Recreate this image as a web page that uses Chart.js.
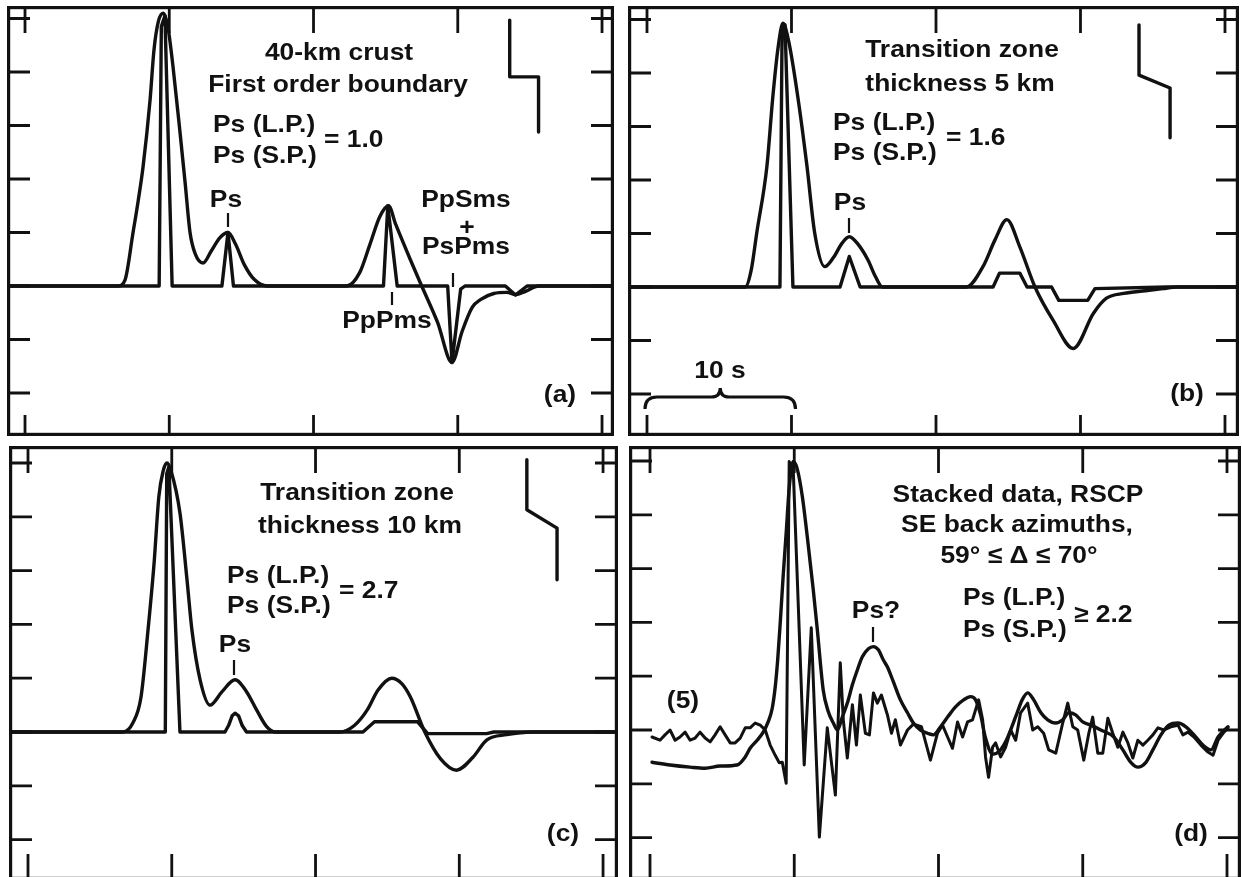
<!DOCTYPE html>
<html>
<head>
<meta charset="utf-8">
<script src="https://cdn.jsdelivr.net/npm/chart.js@4/dist/chart.umd.min.js"></script>
<style>
  body { margin: 0; background: #fff; width: 1242px; height: 877px; overflow: hidden; position: relative; }
  canvas { position: absolute; }
</style>
</head>
<body>
<canvas id="panelA"></canvas>
<canvas id="panelB"></canvas>
<canvas id="panelC"></canvas>
<canvas id="panelD"></canvas>
<script>
'use strict';

// time axis in seconds, amplitude in tick units
const xTicks = [0, 10, 20, 30, 40];
const yTicks = [-2, -1, 0, 1, 2, 3, 4, 5];
const INK = '#111';

// (a) 40-km crust, first order boundary
let aLpTime = [-1.3, 6.45, 6.93, 7.49, 7.85, 8.18, 8.67, 8.94, 9.25, 9.6, 9.9, 10.26, 10.75, 11.1, 11.44, 11.8, 12.34, 12.9, 13.5, 14.07, 14.6, 15.2, 15.9, 16.8, 22.3, 23.2, 23.9, 24.6, 25.2, 25.7, 26.7, 27.5, 28.6, 29.6, 30.3, 31.0, 31.6, 32.5, 33.4, 34.0, 34.7, 35.6, 41];
let aLpAmp = [0, 0, 0.11, 1.0, 1.6, 2.22, 3.48, 4.41, 4.95, 5.1, 4.85, 4.1, 2.86, 1.93, 1.0, 0.6, 0.43, 0.65, 0.9, 1.0, 0.78, 0.4, 0.12, 0, 0, 0.25, 0.77, 1.3, 1.5, 1.15, 0.5, 0, -0.68, -1.43, -0.85, -0.4, -0.25, -0.14, -0.12, -0.16, -0.1, 0, 0];
let aSpTime = [-1.3, 9.3, 9.45, 9.7, 10.2, 13.65, 14.07, 14.45, 24.85, 25.15, 25.8, 29.3, 29.6, 30.2, 30.5, 33.3, 34.0, 34.8, 41];
let aSpAmp = [0, 0, 4.85, 5.05, 0, 0, 1.0, 0, 0, 1.5, 0, 0, -1.43, -0.06, 0, 0, -0.17, 0, 0];
let aModelTime = [33.6, 33.6, 35.6, 35.6];
let aModelDepth = [4.97, 3.91, 3.91, 2.88];

// (b) transition zone 5 km
let bLpTime = [-1.4, 6.8, 7.2, 7.6, 8.3, 8.7, 9.07, 9.41, 9.8, 10.45, 11.07, 11.6, 12.3, 12.9, 13.5, 14.0, 14.6, 15.3, 15.8, 16.3, 22.1, 23.25, 24.1, 24.9, 25.8, 26.85, 28.1, 29.5, 30.9, 31.8, 33.0, 34.5, 35.7, 36.7, 41];
let bLpAmp = [0, 0, 0.3, 1.02, 2.26, 3.53, 4.47, 4.93, 4.6, 3.53, 2.26, 1.02, 0.38, 0.55, 0.82, 0.94, 0.8, 0.5, 0.2, 0, 0, 0.38, 0.89, 1.26, 0.75, 0, -0.62, -1.15, -0.49, -0.21, -0.12, -0.07, -0.03, 0, 0];
let bSpTime = [-1.4, 9.2, 9.35, 9.55, 10.1, 13.36, 14.0, 14.75, 23.95, 24.4, 25.8, 26.3, 28.0, 28.5, 30.5, 31.0, 36.0, 41];
let bSpAmp = [0, 0, 4.85, 4.9, 0, 0, 0.57, 0, 0, 0.26, 0.26, 0, 0, -0.25, -0.25, -0.03, 0, 0];
let bModelTime = [34.05, 34.05, 36.2, 36.2];
let bModelDepth = [4.9, 3.96, 3.72, 2.79];

// (c) transition zone 10 km
let cLpTime = [-1.4, 6.6, 7.3, 7.86, 8.35, 8.77, 9.1, 9.4, 9.67, 9.95, 10.57, 11.06, 11.4, 11.97, 12.66, 13.5, 14.4, 15.2, 15.9, 16.6, 17.2, 21.7, 22.7, 23.6, 24.35, 25.3, 26.0, 26.6, 27.6, 28.7, 29.8, 30.95, 31.9, 33.3, 35.1, 41.2];
let cLpAmp = [0, 0, 0.17, 0.65, 1.9, 3.14, 4.37, 4.85, 5.0, 4.85, 4.07, 2.83, 1.9, 0.97, 0.5, 0.75, 0.97, 0.75, 0.41, 0.1, 0, 0, 0.12, 0.41, 0.78, 1.0, 0.9, 0.65, 0, -0.5, -0.71, -0.47, -0.15, -0.05, 0, 0];
let cSpTime = [-1.4, 9.55, 9.65, 9.8, 10.57, 13.7, 13.95, 14.2, 14.4, 14.65, 14.9, 15.2, 23.3, 24.1, 27.1, 27.8, 31.9, 32.4, 41.2];
let cSpAmp = [0, 0, 4.8, 4.93, 0, 0, 0.12, 0.3, 0.35, 0.3, 0.12, 0, 0, 0.19, 0.19, -0.03, -0.03, 0, 0];
let cModelTime = [34.7, 34.7, 36.8, 36.8];
let cModelDepth = [5.06, 4.13, 3.79, 2.83];

// (d) stacked data, RSCP
let dLpTime = [0.14, 1.39, 2.78, 3.82, 4.86, 6.04, 6.6, 6.94, 7.43, 7.85, 8.19, 8.47, 8.68, 8.85, 9.03, 9.24, 9.45, 9.65, 9.93, 10.21, 10.56, 10.9, 11.11, 11.32, 11.6, 12.01, 12.35, 12.71, 12.99, 13.33, 13.68, 14.03, 14.38, 14.72, 15.14, 15.49, 15.83, 16.18, 16.46, 16.88, 17.36, 17.85, 18.26, 18.75, 19.24, 19.65, 20.14, 20.63, 21.18, 21.74, 22.22, 22.57, 22.92, 23.26, 23.75, 24.2, 24.65, 25.0, 25.45, 25.8, 26.18, 26.6, 27.1, 27.57, 28.13, 28.61, 29.03, 29.51, 30.0, 30.56, 31.25, 32.15, 32.78, 33.33, 33.82, 34.38, 34.86, 35.42, 35.97, 36.6, 37.15, 37.71, 38.33, 38.89, 39.38, 40.07];
let dLpAmp = [-0.6, -0.65, -0.69, -0.71, -0.67, -0.65, -0.5, -0.34, -0.19, -0.04, 0.15, 0.4, 0.8, 1.3, 2.0, 2.9, 3.7, 4.5, 4.99, 4.85, 4.34, 3.6, 3.1, 2.6, 1.86, 0.74, 0.35, 0.13, 0, 0.24, 0.5, 0.84, 1.12, 1.36, 1.51, 1.55, 1.49, 1.3, 1.17, 0.89, 0.56, 0.32, 0.13, 0, -0.06, -0.09, 0.06, 0.24, 0.43, 0.56, 0.62, 0.56, 0.28, -0.15, -0.45, -0.4, -0.22, 0, 0.32, 0.56, 0.69, 0.56, 0.32, 0.19, 0.13, 0.19, 0.32, 0.28, 0.15, 0.09, 0, -0.13, -0.37, -0.6, -0.69, -0.6, -0.37, -0.09, 0.09, 0.13, 0.06, -0.09, -0.28, -0.37, -0.13, 0.06];
let dSpTime = [0.14, 0.69, 1.04, 1.39, 1.74, 2.08, 2.43, 2.78, 3.13, 3.47, 3.82, 4.17, 4.51, 4.86, 5.21, 5.56, 5.9, 6.25, 6.6, 6.94, 7.29, 7.64, 7.99, 8.33, 8.68, 8.96, 9.17, 9.44, 9.65, 9.93, 10.69, 11.18, 11.74, 12.29, 12.85, 13.19, 13.4, 13.68, 14.03, 14.31, 14.58, 14.93, 15.21, 15.49, 15.76, 16.04, 16.46, 16.74, 17.01, 17.36, 17.85, 18.26, 18.82, 19.44, 19.93, 20.28, 20.63, 20.97, 21.32, 21.67, 22.01, 22.36, 22.78, 23.06, 23.26, 23.47, 23.75, 23.96, 24.31, 24.65, 25.0, 25.35, 25.69, 26.18, 26.53, 26.88, 27.29, 27.64, 28.13, 28.61, 28.96, 29.31, 29.65, 30.07, 30.42, 30.69, 31.04, 31.39, 31.74, 32.08, 32.43, 32.78, 33.13, 33.47, 33.82, 34.17, 34.51, 34.86, 35.21, 35.63, 36.11, 36.6, 36.94, 37.29, 37.71, 38.19, 38.68, 39.03, 39.38, 39.79, 40.07];
let dSpAmp = [-0.13, -0.19, -0.09, 0, -0.19, -0.13, -0.04, -0.19, -0.15, -0.04, -0.15, -0.22, -0.09, 0.06, -0.09, -0.24, -0.24, -0.15, 0.04, 0.04, 0.13, 0.09, 0, -0.28, -0.47, -0.61, -0.6, -0.99, 4.99, 4.84, -0.65, 1.9, -1.99, 0.04, -1.21, 1.25, 0.19, -0.52, 0.47, -0.28, 0.65, -0.06, -0.09, 0.69, 0.5, 0.65, 0.28, -0.06, 0.19, -0.28, 0, 0.11, 0.06, -0.56, -0.06, 0.09, -0.13, -0.34, 0.15, -0.13, 0.15, 0.19, 0.56, 0.19, -0.5, -0.88, -0.32, -0.24, -0.5, -0.32, 0, -0.19, 0.32, 0.5, 0, 0.06, -0.06, -0.37, -0.43, 0.13, 0.5, 0.06, 0, -0.56, -0.06, 0.24, -0.43, -0.43, 0.22, -0.06, -0.32, -0.04, -0.24, -0.52, -0.19, -0.28, -0.19, -0.09, 0.04, 0, 0.06, 0.09, -0.09, -0.04, -0.13, -0.28, -0.41, -0.47, -0.19, -0.04, 0.04];

// labels: text, page x, page baseline y, alignment
let aTexts = [
  ['40-km crust', 339, 60, 'center'],
  ['First order boundary', 338, 92, 'center'],
  ['Ps (L.P.)', 213, 132, 'left'],
  ['Ps (S.P.)', 213, 163, 'left'],
  ['= 1.0', 324, 147, 'left'],
  ['Ps', 226, 207, 'center'],
  ['PpSms', 466, 207, 'center'],
  ['+', 467, 235, 'center'],
  ['PsPms', 466, 254, 'center'],
  ['PpPms', 387, 328, 'center'],
  ['(a)', 560, 402, 'center']
];
let bTexts = [
  ['Transition zone', 962, 57, 'center'],
  ['thickness 5 km', 960, 91, 'center'],
  ['Ps (L.P.)', 833, 130, 'left'],
  ['Ps (S.P.)', 833, 160, 'left'],
  ['= 1.6', 946, 145, 'left'],
  ['Ps', 850, 210, 'center'],
  ['10 s', 720, 378, 'center'],
  ['(b)', 1187, 401, 'center']
];
let cTexts = [
  ['Transition zone', 357, 500, 'center'],
  ['thickness 10 km', 360, 533, 'center'],
  ['Ps (L.P.)', 227, 583, 'left'],
  ['Ps (S.P.)', 227, 613, 'left'],
  ['= 2.7', 339, 598, 'left'],
  ['Ps', 235, 652, 'center'],
  ['(c)', 563, 841, 'center']
];
let dTexts = [
  ['Stacked data, RSCP', 1018, 502, 'center'],
  ['SE back azimuths,', 1017, 532, 'center'],
  ['59° ≤ Δ ≤ 70°', 1019, 563, 'center'],
  ['Ps (L.P.)', 963, 605, 'left'],
  ['Ps (S.P.)', 963, 637, 'left'],
  ['≥ 2.2', 1074, 622, 'left'],
  ['Ps?', 876, 618, 'center'],
  ['(5)', 683, 708, 'center'],
  ['(d)', 1191, 841, 'center']
];

// short marker lines under the phase names: x, y top, y bottom
let aMarks = [[228, 213, 227], [453, 273, 287], [392, 292, 305]];
let bMarks = [[849, 218, 233]];
let cMarks = [[234, 660, 675]];
let dMarks = [[873, 627, 642]];

function points(t, v) {
  return t.map((x, i) => ({ x: x, y: v[i] }));
}

function trace(t, v, smooth, width) {
  return {
    data: points(t, v),
    borderColor: INK,
    borderWidth: width || 3.4,
    pointRadius: 0,
    fill: false,
    tension: 0,
    cubicInterpolationMode: smooth ? 'monotone' : 'default',
    borderJoinStyle: 'round',
    borderCapStyle: 'round'
  };
}

let panels = [
  { id: 'panelA', box: [7, 6, 614, 436], xr: [-1.248, 40.83], yr: [-2.804, 5.234], bottomTick: 21,
    sets: [trace(aLpTime, aLpAmp, true), trace(aSpTime, aSpAmp, false), trace(aModelTime, aModelDepth, false)],
    texts: aTexts, marks: aMarks },
  { id: 'panelB', box: [628, 6, 1239, 436], xr: [-1.315, 40.97], yr: [-2.785, 5.252], bottomTick: 21,
    sets: [trace(bLpTime, bLpAmp, true), trace(bSpTime, bSpAmp, false), trace(bModelTime, bModelDepth, false)],
    texts: bTexts, marks: bMarks, bracket: true },
  { id: 'panelC', box: [9, 446, 618, 880], xr: [-1.322, 41.04], yr: [-2.751, 5.316], bottomTick: 26,
    sets: [trace(cLpTime, cLpAmp, true), trace(cSpTime, cSpAmp, false), trace(cModelTime, cModelDepth, false)],
    texts: cTexts, marks: cMarks },
  { id: 'panelD', box: [629, 446, 1241, 880], xr: [-1.456, 40.97], yr: [-2.788, 5.279], bottomTick: 26,
    sets: [trace(dLpTime, dLpAmp, true), trace(dSpTime, dSpAmp, false, 3)],
    texts: dTexts, marks: dMarks }
];

// frame, inward ticks, labels
function decor(p) {
  return {
    id: 'decor',
    afterDatasetsDraw(chart) {
      let ctx = chart.ctx;
      let xs = chart.scales.x;
      let ys = chart.scales.y;
      let w = chart.width, h = chart.height;
      let left = p.box[0], top = p.box[1];
      ctx.save();
      ctx.strokeStyle = INK;
      ctx.fillStyle = INK;
      ctx.lineWidth = 3.2;
      ctx.strokeRect(1.6, 1.6, w - 3.2, h - 3.2);

      ctx.lineWidth = 2.8;
      ctx.beginPath();
      yTicks.forEach(v => {
        let y = ys.getPixelForValue(v);
        ctx.moveTo(0, y); ctx.lineTo(23, y);
        ctx.moveTo(w - 23, y); ctx.lineTo(w, y);
      });
      xTicks.forEach(t => {
        let x = xs.getPixelForValue(t);
        ctx.moveTo(x, 0); ctx.lineTo(x, 27);
        ctx.moveTo(x, h); ctx.lineTo(x, h - p.bottomTick);
      });
      ctx.stroke();

      ctx.lineWidth = 2.2;
      ctx.beginPath();
      p.marks.forEach(m => {
        ctx.moveTo(m[0] - left, m[1] - top);
        ctx.lineTo(m[0] - left, m[2] - top);
      });
      ctx.stroke();

      if (p.bracket) {
        // curly brace spanning 10 s
        let x0 = xs.getPixelForValue(0) - 2;
        let x1 = xs.getPixelForValue(10) + 4;
        let xm = (x0 + x1) / 2;
        let y = ys.getPixelForValue(-2) + 3;
        ctx.lineWidth = 3.2;
        ctx.beginPath();
        ctx.moveTo(x0, y + 12);
        ctx.quadraticCurveTo(x0, y, x0 + 12, y);
        ctx.lineTo(xm - 9, y);
        ctx.quadraticCurveTo(xm, y, xm, y - 9);
        ctx.quadraticCurveTo(xm, y, xm + 9, y);
        ctx.lineTo(x1 - 12, y);
        ctx.quadraticCurveTo(x1, y, x1, y + 12);
        ctx.stroke();
      }

      ctx.font = 'bold 24px "Liberation Sans", Arial, sans-serif';
      ctx.textBaseline = 'alphabetic';
      p.texts.forEach(tx => {
        ctx.save();
        ctx.translate(tx[1] - left, tx[2] - top);
        ctx.scale(1.1, 1);
        ctx.textAlign = tx[3];
        ctx.fillText(tx[0], 0, 0);
        ctx.restore();
      });
      ctx.restore();
    }
  };
}

panels.forEach(p => {
  let canvas = document.getElementById(p.id);
  canvas.width = p.box[2] - p.box[0];
  canvas.height = p.box[3] - p.box[1];
  canvas.style.left = p.box[0] + 'px';
  canvas.style.top = p.box[1] + 'px';
  // eslint-disable-next-line no-unused-vars
  let chart = new Chart(canvas.getContext('2d'), {
    type: 'line',
    data: { datasets: p.sets },
    options: {
      responsive: false,
      animation: false,
      events: [],
      layout: { padding: 0 },
      plugins: { legend: { display: false }, tooltip: { enabled: false } },
      scales: {
        x: { type: 'linear', min: p.xr[0], max: p.xr[1], display: false },
        y: { type: 'linear', min: p.yr[0], max: p.yr[1], display: false }
      }
    },
    plugins: [decor(p)]
  });
});
</script>
</body>
</html>
